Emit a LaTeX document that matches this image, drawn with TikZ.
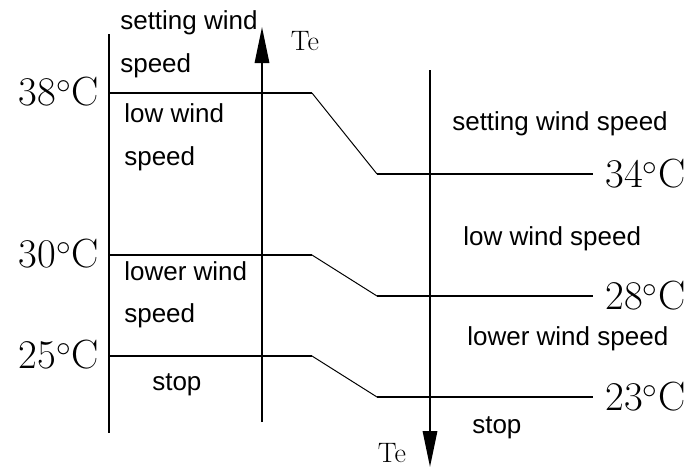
\documentclass[tikz,border=0pt]{standalone}
\usepackage{fontspec}
\newfontfamily\zonefont{Liberation Sans}
\usetikzlibrary{arrows.meta,positioning}

\begin{document}
\begin{tikzpicture}[x=0.025cm, y=-0.025cm, >={Triangle[length=0.9cm,width=0.36cm]},
  zone/.style={font=\zonefont\fontsize{18.5}{20}\selectfont, anchor=base west, inner sep=0pt},
  temp/.style={font=\fontsize{29}{30}\selectfont, inner sep=0pt},
  te/.style={font=\fontsize{20}{22}\selectfont, inner sep=0pt},
  axis/.style={line width=1.4pt},
  level/.style={line width=1.1pt}]
  \useasboundingbox (0,0) rectangle (692,470);
  % axes
  \coordinate (ltop) at (109,34);  \coordinate (lbot) at (109,433);
  \coordinate (ubot) at (262,422); \coordinate (utop) at (262,27);
  \coordinate (dtop) at (430,70);  \coordinate (dbot) at (430,467);
  \draw[axis] (ltop) -- (lbot);
  \draw[axis,->] (ubot) -- (utop);
  \draw[axis,->] (dtop) -- (dbot);
  \node[te] (teup) at (305,41) {Te};
  \node[te] (tedown) at (392,453) {Te};
  % temperature labels
  \node[temp, anchor=east] (t38) at (99,92) {38$^{\circ}$C};
  \node[temp, anchor=east] (t30) at (99,254) {30$^{\circ}$C};
  \node[temp, anchor=east] (t25) at (99,355) {25$^{\circ}$C};
  \node[temp, anchor=west] (t34) at (605,174) {34$^{\circ}$C};
  \node[temp, anchor=west] (t28) at (605,296) {28$^{\circ}$C};
  \node[temp, anchor=west] (t23) at (605,397) {23$^{\circ}$C};
  % switching levels
  \coordinate (a38) at (109,93);  \coordinate (b38) at (312,93);  \coordinate (c38) at (377,174);
  \coordinate (a30) at (109,255); \coordinate (b30) at (312,255); \coordinate (c30) at (377,296);
  \coordinate (a25) at (109,356); \coordinate (b25) at (312,356); \coordinate (c25) at (377,397);
  \draw[level] (a38) -- (b38);
  \draw[line width=0.7pt] (b38) -- (c38);
  \draw[level] (c38) -- ([xshift=-12*0.025cm]t34.west);
  \draw[level] (a30) -- (b30);
  \draw[line width=0.7pt] (b30) -- (c30);
  \draw[level] (c30) -- ([xshift=-12*0.025cm]t28.west);
  \draw[level] (a25) -- (b25);
  \draw[line width=0.7pt] (b25) -- (c25);
  \draw[level] (c25) -- ([xshift=-12*0.025cm]t23.west);
  % rising side
  \node[zone] (su1) at (120,29)  {setting wind};
  \node[zone] (su2) at (120,72)  {speed};
  \node[zone] (lu1) at (124,122) {low wind};
  \node[zone] (lu2) at (124,165) {speed};
  \node[zone] (wu1) at (124,280) {lower wind};
  \node[zone] (wu2) at (124,322) {speed};
  \node[zone] (stu) at (152,390) {stop};
  % falling side
  \node[zone] (sd) at (452,130) {setting wind speed};
  \node[zone] (ld) at (463,245) {low wind speed};
  \node[zone] (wd) at (467,345) {lower wind speed};
  \node[zone] (std) at (472,433) {stop};
\end{tikzpicture}
\end{document}
